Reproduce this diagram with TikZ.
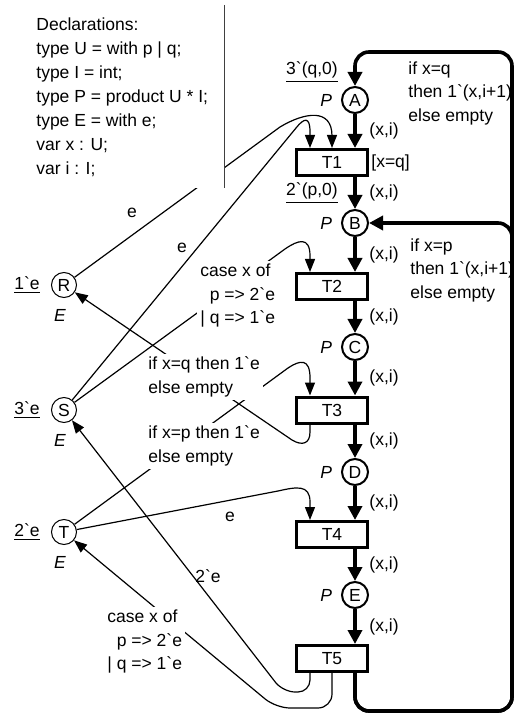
\documentclass[tikz,border=0pt]{standalone}
\usepackage{fontspec}
\setmainfont{Liberation Sans}
\usetikzlibrary{arrows.meta,positioning,calc}
\newcommand{\bqt}{\textasciigrave}
\newcommand{\dfont}{\fontsize{8.75}{11.75}\selectfont}

\begin{document}
\begin{tikzpicture}[x=0.5pt,y=-0.5pt, font=\dfont,
  pl/.style={circle, draw, line width=1pt, minimum size=13pt, inner sep=0pt},
  res/.style={circle, draw, line width=0.5pt, minimum size=12.5pt, inner sep=0pt},
  tr/.style={draw, line width=1.5pt, minimum width=35.5pt, minimum height=13pt,
             inner sep=0pt},
  parc/.style={-{Triangle[length=7pt,width=7pt]}, line width=1.8pt},
  earc/.style={-{Triangle[length=6.5pt,width=5pt]}, line width=0.6pt},
  xi/.style={midway, right=3pt},
  ins/.style={align=left, fill=white, inner sep=1.5pt},
  ty/.style={font=\dfont\itshape},
  initm/.style={inner sep=1pt}]
\useasboundingbox (0,0) rectangle (516,715);
% ---- places of the main cycle ----
\node[pl] (A) at (355,100) {A};
\node[pl] (B) at (355,223) {B};
\node[pl] (C) at (355,347) {C};
\node[pl] (D) at (355,472) {D};
\node[pl] (E) at (355,595) {E};
% ---- transitions ----
\node[tr] (T1) at (332,162.5) {T1};
\node[tr] (T2) at (332,286.5) {T2};
\node[tr] (T3) at (332,410)   {T3};
\node[tr] (T4) at (332,534.5) {T4};
\node[tr] (T5) at (332,658.5) {T5};
% ---- resource places ----
\node[res] (R) at (64,285) {R};
\node[res] (S) at (64,410) {S};
\node[res] (T) at (64,532) {T};
% ---- colour sets and initial markings ----
\foreach \p in {A,B,C,D,E} \node[ty, left=1pt of \p] (P\p) {P};
\foreach \r in {R,S,T} \node[ty, below=2pt of \r, xshift=-2pt] (E\r) {E};
\node[initm, left=4.5pt of R] (mR) {\underline{1\bqt e}};
\node[initm, left=4.5pt of S] (mS) {\underline{3\bqt e}};
\node[initm, left=4.5pt of T] (mT) {\underline{2\bqt e}};
\node[initm] (mA) at (312,72)  {\underline{3\bqt(q,0)}};
\node[initm] (mB) at (312,193) {\underline{2\bqt(p,0)}};
% ---- main arcs ----
\draw[parc] (A) -- node[xi] (x1) {(x,i)} (A |- T1.north);
\draw[parc] (T1.south -| B) -- node[xi] (x2) {(x,i)} (B);
\draw[parc] (B) -- node[xi] (x3) {(x,i)} (B |- T2.north);
\draw[parc] (T2.south -| C) -- node[xi] (x4) {(x,i)} (C);
\draw[parc] (C) -- node[xi] (x5) {(x,i)} (C |- T3.north);
\draw[parc] (T3.south -| D) -- node[xi] (x6) {(x,i)} (D);
\draw[parc] (D) -- node[xi] (x7) {(x,i)} (D |- T4.north);
\draw[parc] (T4.south -| E) -- node[xi] (x8) {(x,i)} (E);
\draw[parc] (E) -- node[xi] (x9) {(x,i)} (E |- T5.north);
\node[inner sep=1pt, right=0pt of T1] (g1) {[x=q]};
% ---- feedback from T5 to A and B ----
\coordinate (lbot) at (355,711);
\coordinate (lrgt) at (512,400);
\coordinate (ltop) at (355,52);
\draw[parc, rounded corners=7pt] (T5.south -| E) -- (E |- lbot) -- (lrgt |- lbot)
  -- (lrgt |- ltop) -- (ltop) -- (A);
\draw[parc, rounded corners=7pt] (T5.south -| E) -- (E |- lbot) -- (lrgt |- lbot)
  -- (lrgt |- B) -- (B);
\node[ins, fill=none, anchor=west] (gq) at (405,93) {if x=q\\then 1\bqt(x,i+1)\\else empty};
\node[ins, fill=none, anchor=west] (gp) at (407,270) {if x=p\\then 1\bqt(x,i+1)\\else empty};
% ---- resource arcs ----
\draw[earc] (R) -- (280,127) .. controls (305,112) and (332,108) .. (332,136) -- (T1.north);
\draw[earc] (S) -- (296,128) .. controls (304,118) and (310,116) .. (310,132)
  -- ($(T1.north)+(-22,0)$);
\draw[earc] (S) -- (285,249) .. controls (298,240) and (310,236) .. (310,256)
  -- ($(T2.north)+(-22,0)$);
\draw[earc] ($(T3.south)+(-22,0)$) -- (310,432) .. controls (310,444) and (302,446) .. (292,440)
  -- (R);
\draw[earc] (T) -- (288,368) .. controls (300,360) and (310,358) .. (310,378)
  -- ($(T3.north)+(-22,0)$);
\draw[earc] (T) -- (278,491) .. controls (296,487) and (310,484) .. (310,502)
  -- ($(T4.north)+(-22,0)$);
\draw[earc, rounded corners=6pt] ($(T5.south)+(-22,0)$) -- (310,692) -- (283,692) -- (S);
\draw[earc, rounded corners=7pt] (T5.south) -- (332,708) -- (276,708) -- (T);
% ---- arc inscriptions ----
\node (e1) at (132,213) {e};
\node (e2) at (182,248) {e};
\node (e3) at (230,517) {e};
\node (e4) at (208,576) {2\bqt e};
\node[ins, anchor=west] (cs1) at (197,296) {case x of\\\phantom{| }p => 2\bqt e\\| q => 1\bqt e};
\node[ins, anchor=west] (ifq) at (145,377) {if x=q then 1\bqt e\\else empty};
\node[ins, anchor=west] (ifp) at (145,446) {if x=p then 1\bqt e\\else empty};
\node[ins, anchor=west] (cs2) at (104,642) {case x of\\\phantom{| }p => 2\bqt e\\| q => 1\bqt e};
% ---- declarations ----
\fill[white] (0,0) rectangle (224,188);
\coordinate (dtop) at (224,5);
\coordinate (dbot) at (224,188);
\draw[line width=0.5pt, black!75] (dtop) -- (dbot);
\node[anchor=north west, align=left, inner sep=0pt, font=\fontsize{8.75}{12}\selectfont]
  (decl) at (36,17) {Declarations:\\type U = with p | q;\\type I = int;\\
  type P = product U * I;\\type E = with e;\\var x : U;\\var i : I;};
\end{tikzpicture}
\end{document}
